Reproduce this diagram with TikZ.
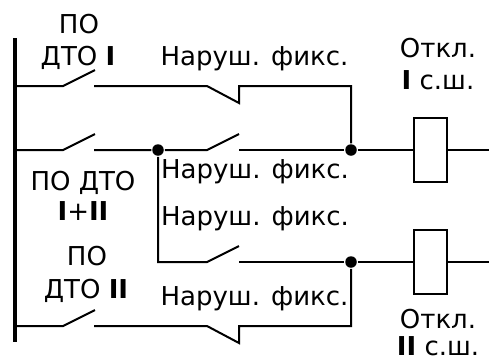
\documentclass[tikz,border=0pt]{standalone}
\usepackage{fontspec}
\setmainfont{DejaVu Sans}
\usepackage{tikz}
\usetikzlibrary{positioning}

\begin{document}
\begin{tikzpicture}[x=1pt, y=-1pt,
    every path/.style={line width=2pt},
    lbl/.style={anchor=base, inner sep=0pt, font=\fontsize{26}{26}\selectfont},
    dot/.style={circle, fill=black, inner sep=0pt, minimum size=11.5pt},
    coil/.style={draw, rectangle, fill=white, minimum width=33pt, minimum height=64pt, inner sep=0pt},
]
\useasboundingbox (0,0) rectangle (489,360);

% Bus
\coordinate (bustop) at (15,38);
\coordinate (busbot) at (15,342);
\draw[line width=4pt] (bustop) -- (busbot);

% Coils and junctions
\node (coil1) [coil] at (430.5,150) {};
\node (coil2) [coil] at (430.5,262) {};
\node (j1) [dot] at (158,150) {};
\node (j2) [dot] at (351,150) {};
\node (j3) [dot] at (351,262) {};

% Row I
\coordinate (a1) at (15,86);
\coordinate (a2) at (63,86);
\coordinate (a3) at (95,70);
\coordinate (a4) at (94,86);
\coordinate (a5) at (207,86);
\coordinate (a6) at (239,103);
\coordinate (a7) at (239,86);
\coordinate (a8) at (351,86);
\draw (a1) -- (a2) -- (a3);
\draw (a4) -- (a5) -- (a6) -- (a7) -- (a8) -- (j2);

% Row I+II
\coordinate (b1) at (15,150);
\coordinate (b2) at (63,150);
\coordinate (b3) at (95,134);
\coordinate (b4) at (94,150);
\coordinate (b5) at (207,150);
\coordinate (b6) at (239,134);
\coordinate (b7) at (239,150);
\coordinate (b8) at (489,150);
\draw (b1) -- (b2) -- (b3);
\draw (b4) -- (j1) -- (b5) -- (b6);
\draw (b7) -- (j2) -- (coil1);
\draw (coil1) -- (b8);

% Branch to II
\coordinate (c1) at (158,262);
\coordinate (c2) at (207,262);
\coordinate (c3) at (239,246);
\coordinate (c4) at (239,262);
\coordinate (c5) at (489,262);
\draw (j1) -- (c1) -- (c2) -- (c3);
\draw (c4) -- (j3) -- (coil2);
\draw (coil2) -- (c5);

% Row II
\coordinate (d1) at (15,326);
\coordinate (d2) at (63,326);
\coordinate (d3) at (95,310);
\coordinate (d4) at (94,326);
\coordinate (d5) at (207,326);
\coordinate (d6) at (239,343);
\coordinate (d7) at (239,326);
\coordinate (d8) at (351,326);
\draw (d1) -- (d2) -- (d3);
\draw (d4) -- (d5) -- (d6) -- (d7) -- (d8) -- (j3);

% Labels
\node (po1) [lbl] at (79,33) {ПО};
\node (dto1) [lbl] at (78,65) {ДТО \textbf{I}};
\node (nf1) [lbl] at (254.5,65) {Наруш. фикс.};
\node (off1) [lbl] at (438,57) {Откл.};
\node (bus1) [lbl] at (438,89) {\textbf{I} с.ш.};
\node (nf2) [lbl] at (255,178) {Наруш. фикс.};
\node (po12) [lbl] at (83,190) {ПО ДТО};
\node (dto12) [lbl] at (83,220) {\textbf{I}+\textbf{II}};
\node (nf3) [lbl] at (255,225) {Наруш. фикс.};
\node (po2) [lbl] at (87,265) {ПО};
\node (dto2) [lbl] at (86,298) {ДТО \textbf{II}};
\node (nf4) [lbl] at (254.5,305) {Наруш. фикс.};
\node (off2) [lbl] at (438,328) {Откл.};
\node (bus2) [lbl] at (438,355) {\textbf{II} с.ш.};

\end{tikzpicture}
\end{document}
